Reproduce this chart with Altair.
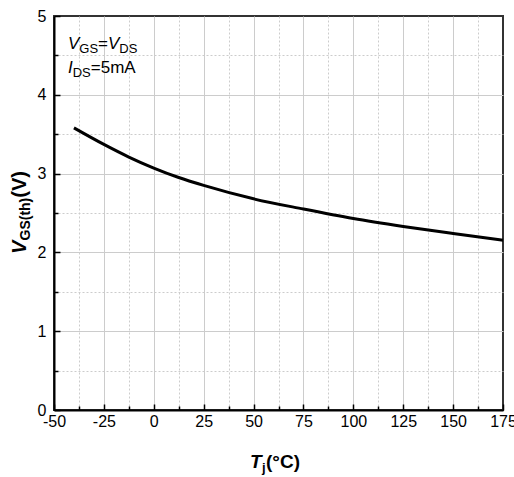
import altair as alt
import pandas as pd

# ---- data ----
temps = [-40, -25, -12.5, 0, 12.5, 25, 50, 75, 100, 125, 150, 175]
vth = [3.58, 3.37, 3.21, 3.07, 2.95, 2.85, 2.68, 2.55, 2.43, 2.33, 2.24, 2.155]

x_labels = [-50, -25, 0, 25, 50, 75, 100, 125, 150, 175]
x_grid_major = [-25, 0, 25, 50, 75, 100, 125, 150]
x_minor = [-37.5, -12.5, 12.5, 37.5, 62.5, 87.5, 112.5, 137.5, 162.5]
y_labels = [0, 1, 2, 3, 4, 5]
y_grid_major = [1, 2, 3, 4]
y_minor = [0.5, 1.5, 2.5, 3.5, 4.5]

# rich-text pieces
ytitle_parts = ["V", "GS(th)", "(V)"]
xtitle_parts = ["T", "j", "(°C)"]
note1_parts = ["V", "GS", "=", "V", "DS"]
note2_parts = ["I", "DS", "=5mA"]

FONT = "Liberation Sans"
W, H = 449, 394

df = pd.DataFrame({"T": temps, "V": vth})
xs = alt.Scale(domain=[-50, 175], nice=False, zero=False)
ys = alt.Scale(domain=[0, 5], nice=False, zero=False)


def axis_layer(xaxis, yaxis, visible=False):
    m = alt.Chart(df).mark_line(
        color="black", strokeWidth=3, interpolate="monotone",
        opacity=1 if visible else 0,
    )
    return m.encode(
        x=alt.X("T:Q", scale=xs, axis=xaxis),
        y=alt.Y("V:Q", scale=ys, axis=yaxis),
    )


def grid_axis(orient, values, dash):
    kw = dict(orient=orient, values=values, title=None, labels=False, ticks=False,
              tickSize=0, domain=False, grid=True, gridColor="#cccccc", gridWidth=1)
    if dash:
        kw["gridDash"] = dash
    return alt.Axis(**kw)


def tick_axis(orient, values, size):
    return alt.Axis(orient=orient, values=values, title=None, labels=False, ticks=True,
                    tickSize=size, tickColor="black", tickWidth=1.5, offset=-size,
                    domain=False, grid=False)


grid_major = axis_layer(grid_axis("bottom", x_grid_major, None), grid_axis("left", y_grid_major, None))
grid_minor = axis_layer(grid_axis("bottom", x_minor, [2, 2]), grid_axis("left", y_minor, [2, 2]))
ticks_major = axis_layer(tick_axis("bottom", x_labels, 6), tick_axis("left", y_labels, 6))
ticks_minor = axis_layer(tick_axis("bottom", x_minor, 4), tick_axis("left", y_minor, 4))

main = axis_layer(
    alt.Axis(orient="bottom", values=x_labels, title=None, labelFont=FONT, labelFontSize=16,
             labelColor="black", labelPadding=3, labelFlush=False, labelOverlap=False,
             labelExpr="toString(datum.value)",
             ticks=False, tickSize=0, domain=True, domainColor="black", domainWidth=2, grid=False),
    alt.Axis(orient="left", values=y_labels, title=None, labelFont=FONT, labelFontSize=16,
             labelColor="black", labelPadding=8, labelFlush=False, labelOverlap=False,
             labelExpr="toString(datum.value)",
             ticks=False, tickSize=0, domain=True, domainColor="black", domainWidth=2, grid=False),
    visible=True,
)


def txt(s, x, y, size, italic=False, bold=False, angle=0):
    return alt.Chart(pd.DataFrame({"s": [s]})).mark_text(
        font=FONT, fontSize=size, fontStyle="italic" if italic else "normal",
        fontWeight="bold" if bold else "normal", align="left", baseline="alphabetic",
        angle=angle, color="black",
    ).encode(text="s:N", x=alt.value(x), y=alt.value(y))


texts = [
    # y title (rotated)
    txt(ytitle_parts[0], -28, 238, 20, italic=True, bold=True, angle=270),
    txt(ytitle_parts[1], -24, 224.5, 14, bold=True, angle=270),
    txt(ytitle_parts[2], -28, 181.7, 20, bold=True, angle=270),
    # x title
    txt(xtitle_parts[0], 196, 452, 19, italic=True, bold=True),
    txt(xtitle_parts[1], 208, 456, 13, bold=True),
    txt(xtitle_parts[2], 212, 452, 19, bold=True),
    # annotation
    txt(note1_parts[0], 14, 33, 17, italic=True),
    txt(note1_parts[1], 25.3, 37, 13),
    txt(note1_parts[2], 44, 33, 17),
    txt(note1_parts[3], 54, 33, 17, italic=True),
    txt(note1_parts[4], 65.3, 37, 13),
    txt(note2_parts[0], 14, 57, 17, italic=True),
    txt(note2_parts[1], 18.7, 61, 13),
    txt(note2_parts[2], 36.8, 57, 17),
]

chart = alt.layer(grid_major, grid_minor, ticks_major, ticks_minor, main, *texts).resolve_axis(
    x="independent", y="independent"
).properties(
    width=W, height=H,
    autosize=alt.AutoSizeParams(type="none"),
    padding={"left": 54, "top": 16, "right": 11, "bottom": 67},
    background="white",
).configure_view(stroke="#333333", strokeWidth=2)

chart.save("out.html", embed_options={"renderer": "svg", "actions": False})
